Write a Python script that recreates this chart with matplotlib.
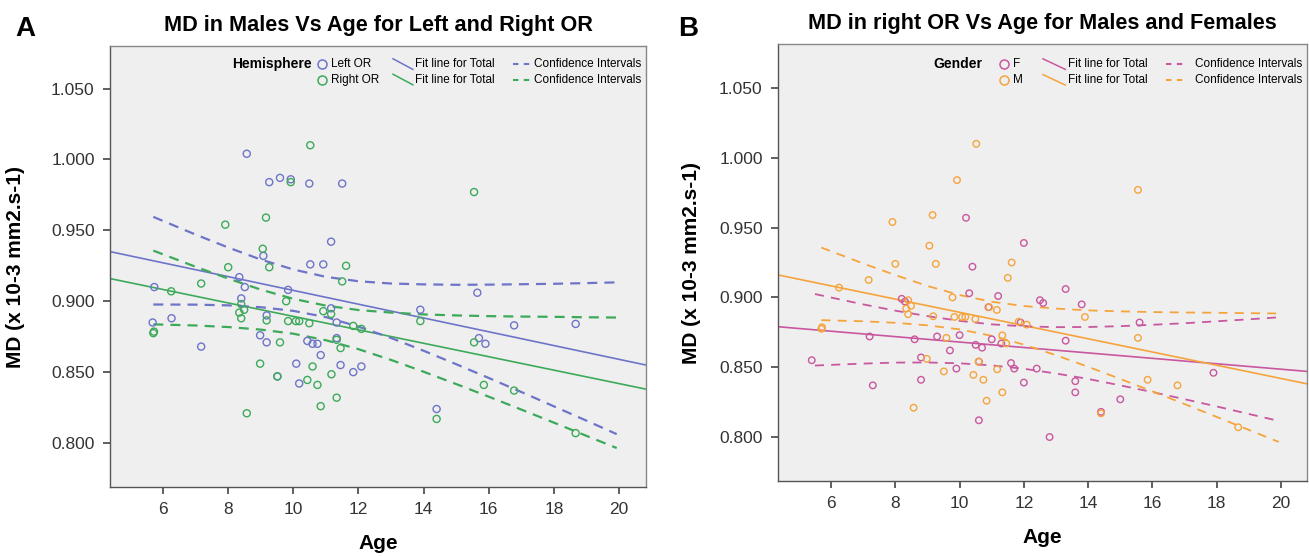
import matplotlib
matplotlib.use("Agg")
import matplotlib.pyplot as plt
from matplotlib.lines import Line2D

plt.rcParams['font.family'] = ['Liberation Sans', 'DejaVu Sans']

# ---------------- data ----------------
# Panel A: Left OR (males)
left_or_x = [8.57, 9.26, 9.59, 9.92, 10.49, 11.50, 11.16, 9.08, 10.52, 10.92, 8.34, 8.51,
             9.84, 5.73, 8.40, 9.18, 11.16, 11.33, 5.68, 6.26, 7.17, 8.98, 9.18, 9.51,
             10.09, 10.18, 10.43, 10.59, 10.74, 10.84, 11.33, 11.45, 11.84, 12.09, 13.9,
             14.40, 15.65, 15.70, 15.90, 16.78, 18.67]
left_or_y = [1.004, 0.984, 0.987, 0.986, 0.983, 0.983, 0.942, 0.932, 0.926, 0.926, 0.917, 0.910,
             0.908, 0.910, 0.902, 0.890, 0.895, 0.885, 0.885, 0.888, 0.868, 0.876, 0.871, 0.847,
             0.856, 0.842, 0.872, 0.870, 0.870, 0.862, 0.874, 0.855, 0.850, 0.854, 0.894,
             0.824, 0.906, 0.874, 0.870, 0.883, 0.884]

# Right OR (males) -- same subjects appear as "M" in panel B
right_or_x = [10.52, 9.92, 9.16, 7.91, 9.06, 8.00, 9.26, 11.62, 11.50, 7.17, 6.25, 8.40,
              8.49, 8.34, 8.40, 9.18, 9.78, 9.84, 10.08, 10.18, 10.49, 10.92, 11.16, 11.84,
              12.09, 5.70, 5.72, 9.59, 8.98, 9.51, 8.57, 10.43, 10.74, 10.59, 11.33, 11.45,
              11.17, 11.33, 10.84, 13.9, 14.40, 15.55, 15.55, 15.85, 16.78, 18.67]
right_or_y = [1.010, 0.984, 0.959, 0.954, 0.937, 0.924, 0.924, 0.925, 0.914, 0.9125, 0.907, 0.898,
              0.894, 0.892, 0.888, 0.8865, 0.900, 0.886, 0.886, 0.886, 0.8845, 0.893, 0.891, 0.8826,
              0.8805, 0.8775, 0.8786, 0.871, 0.856, 0.847, 0.821, 0.8445, 0.841, 0.854, 0.8728, 0.867,
              0.8485, 0.832, 0.826, 0.886, 0.817, 0.977, 0.871, 0.841, 0.837, 0.807]

# Panel B: Females, right OR
female_x = [5.4, 7.2, 7.3, 8.2, 8.3, 8.6, 8.8, 8.8, 9.3, 9.7, 9.9, 10.0, 10.2, 10.3, 10.4,
            10.5, 10.6, 10.6, 10.7, 10.9, 11.0, 11.2, 11.3, 11.6, 11.7, 11.9, 12.0, 12.0,
            12.4, 12.5, 12.6, 12.8, 13.3, 13.3, 13.6, 13.6, 13.8, 14.4, 15.0, 15.6, 17.9]
female_y = [0.855, 0.872, 0.837, 0.899, 0.897, 0.870, 0.857, 0.841, 0.872, 0.862, 0.849, 0.873,
            0.957, 0.903, 0.922, 0.866, 0.854, 0.812, 0.864, 0.893, 0.870, 0.901, 0.867, 0.853,
            0.849, 0.882, 0.939, 0.839, 0.849, 0.898, 0.896, 0.800, 0.906, 0.869, 0.840, 0.832,
            0.895, 0.818, 0.827, 0.882, 0.846]

# Fit lines (value at the two x-axis ends)
fit_x_A = [4.37, 20.83]
fit_left_y = [0.935, 0.855]
fit_right_y = [0.916, 0.838]
fit_x_B = [4.35, 20.81]
fit_female_y = [0.879, 0.847]

# Confidence intervals
ci_x_male = [5.7, 7, 8, 9, 10, 11, 12, 13, 14, 15, 16, 17, 18, 19, 19.93]
ci_left_up = [0.9595, 0.947, 0.9379, 0.9294, 0.9224, 0.9172, 0.9141, 0.9125, 0.9119, 0.9116,
              0.9117, 0.912, 0.9123, 0.9128, 0.9133]
ci_left_lo = [0.8977, 0.8976, 0.8971, 0.8958, 0.8932, 0.8888, 0.8821, 0.8741, 0.8651, 0.8556,
              0.8459, 0.836, 0.8259, 0.8158, 0.8063]
ci_right_up = [0.9357, 0.9243, 0.916, 0.9082, 0.9017, 0.8969, 0.8938, 0.892, 0.8907, 0.89,
               0.8895, 0.8892, 0.889, 0.8887, 0.8885]
ci_right_lo = [0.8837, 0.8829, 0.8818, 0.88, 0.8771, 0.8725, 0.8662, 0.8586, 0.8503, 0.8416,
               0.8327, 0.8236, 0.8144, 0.8051, 0.7965]
ci_x_female = [5.5, 7, 8, 9, 10, 11, 12, 13, 14, 15, 16, 17, 18, 19, 19.9]
ci_female_up = [0.9024, 0.895, 0.8905, 0.8866, 0.8832, 0.8807, 0.8793, 0.8787, 0.8788, 0.8794,
                0.8804, 0.8815, 0.8829, 0.8843, 0.8857]
ci_female_lo = [0.8512, 0.8526, 0.8533, 0.8534, 0.8528, 0.8513, 0.8489, 0.8455, 0.8416, 0.837,
                0.8322, 0.8271, 0.8219, 0.8165, 0.8117]

x_ticks = [6, 8, 10, 12, 14, 16, 18, 20]
y_ticks = [0.800, 0.850, 0.900, 0.950, 1.000, 1.050]
y_tick_labels = ["0.800", "0.850", "0.900", "0.950", "1.000", "1.050"]

# ---------------- styling ----------------
BLUE = "#6E74C8"
GREEN = "#3DAA5A"
PINK = "#C9579F"
ORANGE = "#F5A43C"
FACE = "#EFEFEF"
SPINE = "#555555"

W, H = 1309, 556
fig = plt.figure(figsize=(W / 100, H / 100), dpi=100)


def px_axes(l, t, r, b):
    return fig.add_axes([l / W, 1 - b / H, (r - l) / W, (b - t) / H])


def style(ax, xlim, ylim):
    ax.set_facecolor(FACE)
    ax.set_xlim(*xlim)
    ax.set_ylim(*ylim)
    ax.set_xticks(x_ticks)
    ax.set_yticks(y_ticks)
    ax.set_yticklabels(y_tick_labels)
    for s in ["left", "bottom", "right", "top"]:
        ax.spines[s].set_color(SPINE)
        ax.spines[s].set_linewidth(1.0)
    ax.spines["top"].set_color("#888888")
    ax.spines["right"].set_color("#888888")
    ax.tick_params(axis="both", direction="out", length=5, width=1.2, color="#444444",
                   labelsize=12.5, labelcolor="#333333", pad=6)
    ax.tick_params(top=False, right=False)
    ax.set_xlabel("Age", fontsize=15, fontweight="bold", labelpad=12)
    ax.set_ylabel("MD (x 10-3 mm2.s-1)", fontsize=15, fontweight="bold")


def legend(ax, title, title_right, mk_x, lab_x, ln_x, fit_x, ds_x, ci_x, rows, entries):
    ax.text(title_right, rows[0], title, transform=ax.transAxes, ha="right", va="center",
            fontsize=10, fontweight="bold")
    for (label, color), yy in zip(entries, rows):
        ax.plot([mk_x], [yy], transform=ax.transAxes, marker="o", ms=6.5, mfc="none",
                mec=color, mew=1.1, clip_on=False)
        ax.text(lab_x, yy, label, transform=ax.transAxes, ha="left", va="center", fontsize=8.5)
        ax.add_line(Line2D([ln_x[0], ln_x[1]], [yy + 0.012, yy - 0.012], transform=ax.transAxes,
                           color=color, lw=1.1))
        ax.text(fit_x, yy, "Fit line for Total", transform=ax.transAxes, ha="left",
                va="center", fontsize=8.5)
        ax.add_line(Line2D([ds_x[0], ds_x[1]], [yy, yy], transform=ax.transAxes,
                           color=color, lw=1.5, dashes=(2.6, 2.6)))
        ax.text(ci_x, yy, "Confidence Intervals", transform=ax.transAxes, ha="left",
                va="center", fontsize=8.5)


# ---------------- Panel A ----------------
axA = px_axes(110, 46, 646, 487)
style(axA, (4.37, 20.83), (0.769, 1.080))
axA.scatter(left_or_x, left_or_y, s=26, facecolors="none", edgecolors=BLUE, linewidths=1.0, zorder=3)
axA.scatter(right_or_x, right_or_y, s=26, facecolors="none", edgecolors=GREEN, linewidths=1.0, zorder=3)
axA.plot(fit_x_A, fit_left_y, color=BLUE, lw=1.2)
axA.plot(fit_x_A, fit_right_y, color=GREEN, lw=1.2)
for yy, c in [(ci_left_up, BLUE), (ci_left_lo, BLUE), (ci_right_up, GREEN), (ci_right_lo, GREEN)]:
    axA.plot(ci_x_male, yy, color=c, lw=1.6, dashes=(4.5, 3.2))
axA.set_title("MD in Males Vs Age for Left and Right OR", fontsize=15.6, fontweight="bold", pad=11)
legend(axA, "Hemisphere", 0.377, 0.396, 0.412, (0.528, 0.565), 0.569, (0.752, 0.785), 0.791,
       (0.959, 0.924), [("Left OR", BLUE), ("Right OR", GREEN)])
axA.yaxis.set_label_coords(-0.158, 0.5)

# ---------------- Panel B ----------------
axB = px_axes(778, 44, 1307, 481)
style(axB, (4.35, 20.81), (0.7685, 1.0815))
axB.scatter(female_x, female_y, s=22, facecolors="none", edgecolors=PINK, linewidths=1.0, zorder=3)
axB.scatter(right_or_x, right_or_y, s=22, facecolors="none", edgecolors=ORANGE, linewidths=1.0, zorder=3)
axB.plot(fit_x_B, fit_female_y, color=PINK, lw=1.2)
axB.plot(fit_x_A, fit_right_y, color=ORANGE, lw=1.2)
for xx, yy, c in [(ci_x_female, ci_female_up, PINK), (ci_x_female, ci_female_lo, PINK),
                  (ci_x_male, ci_right_up, ORANGE), (ci_x_male, ci_right_lo, ORANGE)]:
    axB.plot(xx, yy, color=c, lw=1.3, dashes=(5, 4))
axB.set_title("MD in right OR Vs Age for Males and Females", fontsize=15.6, fontweight="bold", pad=11)
legend(axB, "Gender", 0.386, 0.427, 0.445, (0.501, 0.543), 0.548, (0.733, 0.769), 0.788,
       (0.954, 0.918), [("F", PINK), ("M", ORANGE)])
axB.yaxis.set_label_coords(-0.145, 0.5)

fig.text(25 / W, 1 - 29 / H, "A", fontsize=20, fontweight="bold", ha="center", va="center")
fig.text(688 / W, 1 - 29 / H, "B", fontsize=20, fontweight="bold", ha="center", va="center")

fig.savefig("out.png", dpi=100, facecolor="white")
